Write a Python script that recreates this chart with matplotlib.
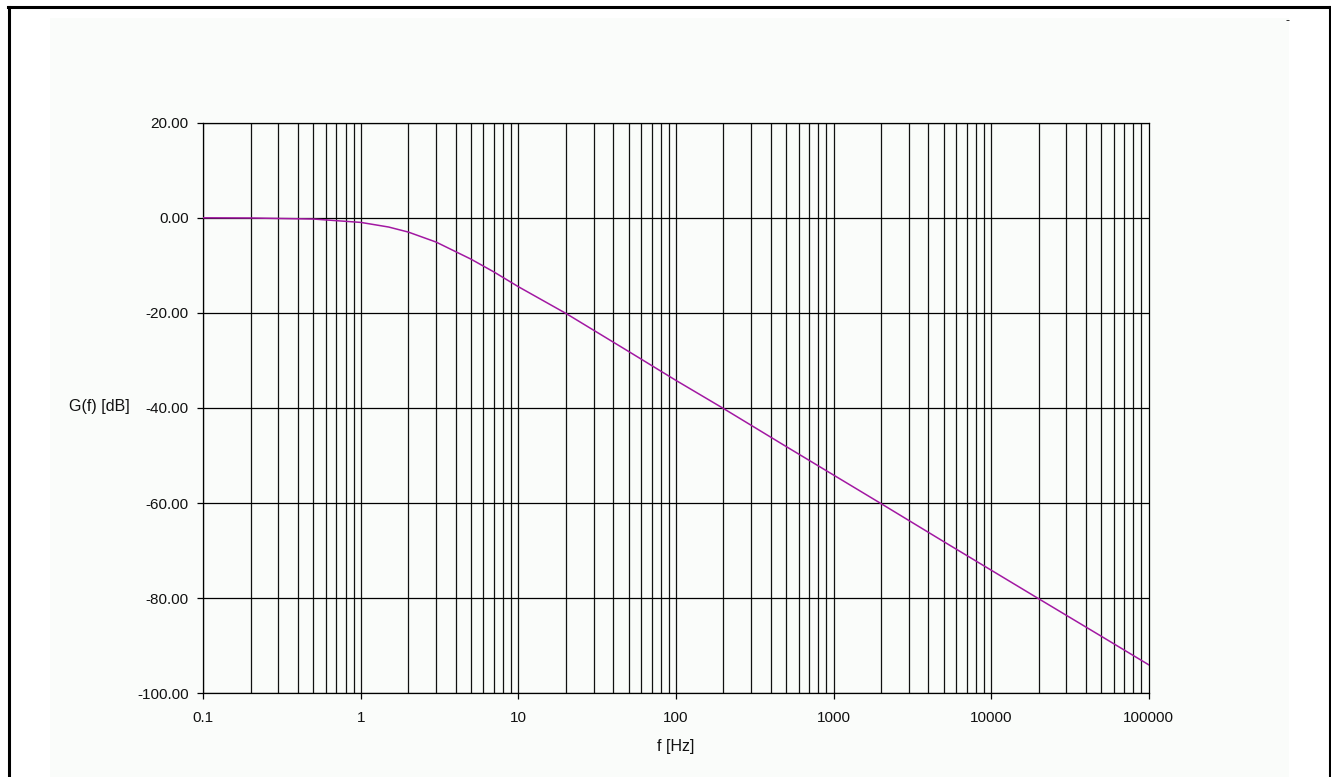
import matplotlib
matplotlib.use("Agg")
import matplotlib.pyplot as plt
from matplotlib.lines import Line2D
from matplotlib.patches import Rectangle
from matplotlib.ticker import FixedLocator, FixedFormatter

plt.rcParams['font.family'] = ['Liberation Sans', 'DejaVu Sans']
plt.rcParams['axes.unicode_minus'] = False

# Data
freq_hz = [0.1, 0.2, 0.5, 1, 1.5, 2, 3, 5, 7, 10, 20, 50, 100, 200, 500,
           1000, 2000, 5000, 10000, 20000, 50000, 100000]
gain_db = [0.0, -0.04, -0.26, -0.97, -1.94, -3.0, -5.1, -8.7, -11.4, -14.5,
           -20.1, -28.1, -34.2, -40.1, -48.1, -54.1, -60.1, -68.1, -74.1,
           -80.1, -88.0, -94.0]
x_ticks = [0.1, 1, 10, 100, 1000, 10000, 100000]
x_tick_labels = ['0.1', '1', '10', '100', '1000', '10000', '100000']
y_ticks = [-100, -80, -60, -40, -20, 0, 20]
y_tick_labels = ['%.2f' % v for v in y_ticks]

W, H = 1331, 777
fig = plt.figure(figsize=(W / 100, H / 100), dpi=100)
fig.patch.set_facecolor('white')

# light background panel
fig.patches.append(Rectangle((50 / W, 0), (1289 - 50) / W, 1 - 18 / H,
                             transform=fig.transFigure, facecolor='#FAFCFA',
                             edgecolor='none', zorder=-10))
# outer border (left, top, right)
bc = 'black'
fig.lines.append(Line2D([9 / W, 9 / W], [0, 1 - 7 / H], transform=fig.transFigure,
                        color=bc, lw=2.2, zorder=-5))
fig.lines.append(Line2D([8 / W, 1330 / W], [1 - 7 / H, 1 - 7 / H],
                        transform=fig.transFigure, color=bc, lw=2.2, zorder=-5))
fig.lines.append(Line2D([1330 / W, 1330 / W], [0, 1 - 7 / H],
                        transform=fig.transFigure, color=bc, lw=2.2, zorder=-5))

left, right = 203.3 / W, 1148.7 / W
top, bottom = 1 - 122.7 / H, 1 - 693.3 / H
ax = fig.add_axes([left, bottom, right - left, top - bottom])
ax.set_zorder(5)
ax.set_facecolor('none')
ax.set_xscale('log')
ax.set_xlim(0.1, 100000)
ax.set_ylim(-100, 20)

# grid: verticals at 1..9 per decade
for dec in [0.1, 1, 10, 100, 1000, 10000]:
    for m in range(1, 10):
        ax.axvline(dec * m, color='#111111', lw=0.9, zorder=1)
for yv in y_ticks:
    ax.axhline(yv, color='black', lw=0.9, zorder=1)

ax.plot(freq_hz, gain_db, color='#A218A2', lw=1.1, zorder=3)

ax.xaxis.set_major_locator(FixedLocator(x_ticks))
ax.xaxis.set_major_formatter(FixedFormatter(x_tick_labels))
ax.xaxis.set_minor_locator(FixedLocator([]))
ax.yaxis.set_major_locator(FixedLocator(y_ticks))
ax.yaxis.set_major_formatter(FixedFormatter(y_tick_labels))

for s in ax.spines.values():
    s.set_color('black')
    s.set_linewidth(0.9)

ax.tick_params(axis='both', which='major', direction='out', length=4,
               width=0.9, color='black', labelsize=11, labelcolor='#111111')
ax.tick_params(axis='y', pad=6.5)
ax.tick_params(axis='x', pad=9)

fig.text(99 / W, 1 - 406 / H, 'G(f) [dB]', ha='center', va='center',
         fontsize=11.5, color='#111111')
fig.text(676 / W, 1 - 747 / H, 'f [Hz]', ha='center', va='center',
         fontsize=11.5, color='#111111')
fig.text(1287 / W, 1 - 21 / H, '-', ha='center', va='center',
         fontsize=9, color='#111111')

fig.savefig('out.png', dpi=100)
